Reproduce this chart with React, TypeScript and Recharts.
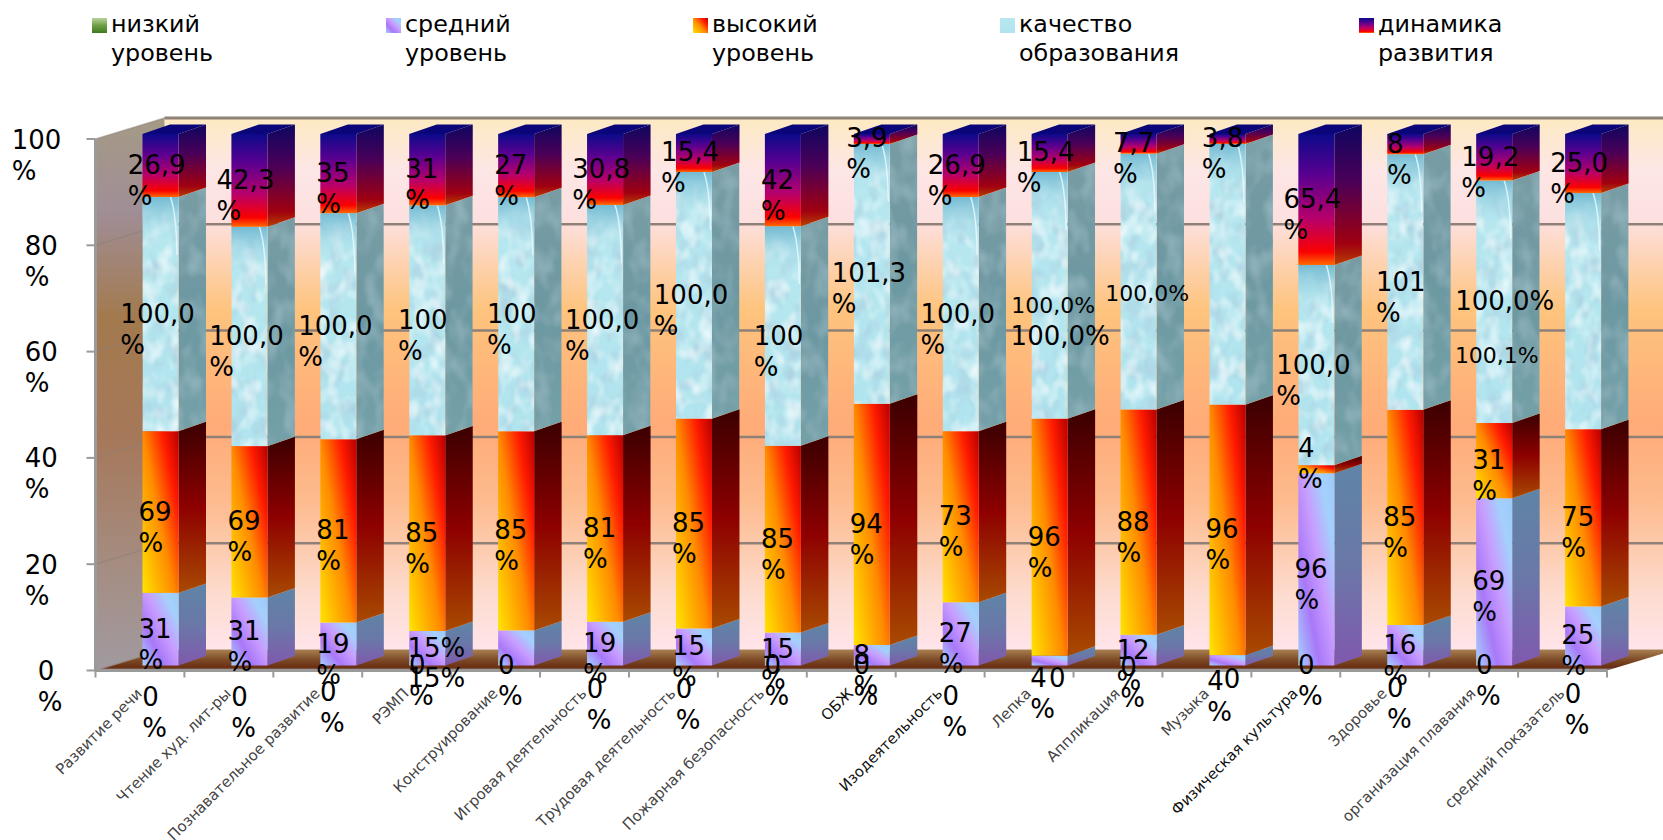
import { BarChart, Bar, XAxis, YAxis, LabelList } from "recharts";

const CATEGORIES = [
    "Развитие речи", "Чтение худ. лит-ры", "Познавательное развитие", "РЭМП", "Конструирование",
    "Игровая деятельность", "Трудовая деятельность", "Пожарная безопасность", "ОБЖ", "Изодеятельность",
    "Лепка", "Аппликация", "Музыка", "Физическая культура", "Здоровье", "организация плавания", "средний показатель",
];

const LOW = [0, 0, 0, 0, 0, 0, 0, 0, 0, 0, 0, 0, 0, 0, 0, 0, 0];
const MID = [31, 31, 19, 15, 15, 19, 15, 15, 8, 27, 4, 12, 4, 96, 16, 69, 25];
const HIGH = [69, 69, 81, 85, 85, 81, 85, 85, 94, 73, 96, 88, 96, 4, 85, 31, 75];
const QUALITY = [100, 100, 100, 100, 100, 100, 100, 100, 101.3, 100, 100, 100, 100, 100, 101, 100, 100];
const DYNAMICS = [26.9, 42.3, 35, 31, 27, 30.8, 15.4, 42, 3.9, 26.9, 15.4, 7.7, 3.8, 65.4, 8, 19.2, 25];

const LOW_LABELS = ["0\n%", "0\n%", "0\n%", "0\n%", "0\n%", "0\n%", "0\n%", "0\n%", "0\n%", "0\n%", "0", "0\n%", "0", "0\n%", "0\n%", "0\n%", "0\n%"];
const MID_LABELS = ["31\n%", "31\n%", "19\n%", "15%", "", "19\n%", "15\n%", "15\n%", "8\n%", "27\n%", "4\n%", "12\n%", "4\n%", "96\n%", "16\n%", "69\n%", "25\n%"];
const HIGH_LABELS = ["69\n%", "69\n%", "81\n%", "85\n%", "85\n%", "81\n%", "85\n%", "85\n%", "94\n%", "73\n%", "96\n%", "88\n%", "96\n%", "4\n%", "85\n%", "31\n%", "75\n%"];
const QUALITY_LABELS = ["100,0\n%", "100,0\n%", "100,0\n%", "100\n%", "100\n%", "100,0\n%", "100,0\n%", "100\n%", "101,3\n%", "100,0\n%", "100,0%", "100,0%", "", "100,0\n%", "101\n%", "100,0%", ""];
const DYNAMICS_LABELS = ["26,9\n%", "42,3\n%", "35\n%", "31\n%", "27\n%", "30,8\n%", "15,4\n%", "42\n%", "3,9\n%", "26,9\n%", "15,4\n%", "7,7\n%", "3,8\n%", "65,4\n%", "8\n%", "19,2\n%", "25,0\n%"];
// the source chart has a few doubled labels
const MID_EXTRA = ["", "", "", "15%", "", "", "", "", "", "", "", "", "", "", "", "", ""];
const QUALITY_EXTRA = ["", "", "", "", "", "", "", "", "", "", "100,0%", "", "", "", "", "100,1%", ""];

const Y_TICKS = [0, 0.2, 0.4, 0.6, 0.8, 1];

const LEGEND_NAMES = ["низкий\nуровень", "средний\nуровень", "высокий\nуровень", "качество\nобразования", "динамика\nразвития"];
const LEGEND_SWATCHES = ["url(#lowFront)", "url(#midFront)", "url(#highFront)", "url(#qualityFront)", "url(#dynFront)"];
const LEGEND_X = [92, 386, 693, 1000, 1359];

const data = CATEGORIES.map((name, i) => ({
    name,
    low: LOW[i],
    mid: MID[i],
    high: HIGH[i],
    quality: QUALITY[i],
    dyn: DYNAMICS[i],
    lowLabel: LOW_LABELS[i],
    midLabel: MID_LABELS[i],
    highLabel: HIGH_LABELS[i],
    qualityLabel: QUALITY_LABELS[i],
    dynLabel: DYNAMICS_LABELS[i],
    midExtra: MID_EXTRA[i],
    qualityExtra: QUALITY_EXTRA[i],
}));

const W = 1663;
const H = 840;
const LEFT = 95.5;
const RIGHT = 1607;
const TOP = 139;
const BOTTOM = 670.5;
const BAND = (RIGHT - LEFT) / CATEGORIES.length;
const WALL_DX = 69;
const WALL_DY = -21;

const BAR_W = 36;
const SHIFT_X = 21;
const SHIFT_Y = -5;
const SIDE_DX = 27.5;
const SIDE_DY = -9.5;

const FONT = "'DejaVu Sans', sans-serif";
const LABEL_SIZE = 26;
const LINE_H = 31;

// label nudges that the placement rule does not cover, [dx, dy, fontSize]
const LOW_DY = [32, 32, 27, 0, 0, 24, 24, 0, 0, 31, 13, 2, 14, 0, 23, 0, 29];
const NUDGES: Record<string, [number, number, number?]> = {
    "low-10": [14, 0],
    "low-12": [11, 0],
    "mid-3": [13, 0],
    "midExtra-3": [13, 30],
    "mid-10": [-1, 18],
    "mid-12": [-2, 21],
    "high-13": [0, -21],
    "quality-10": [12, 41],
    "qualityExtra-10": [6, 11, 22],
    "quality-11": [11, 12, 22],
    "quality-15": [12, 0],
    "qualityExtra-15": [5, 54, 22],
};

function textWidth(s: string, size: number) {
    let em = 0;
    for (const c of s) em += c === "," ? 0.318 : c === "%" ? 0.95 : 0.636;
    return em * size;
}

function makeLabel(series: string) {
    return (p: any) => {
        const text = p.value as string;
        if (!text) return null;
        const key = `${series}-${p.index}`;
        const nudge = NUDGES[key] ?? [0, 0];
        const size = nudge[2] ?? LABEL_SIZE;
        const lines = text.split("\n");
        const blockW = Math.max(...lines.map((l) => textWidth(l, size)));
        const cx = Number(p.x) + Number(p.width) / 2 + 16 + (blockW - 40) * 0.06 + nudge[0];
        const extraDy = series === "low" ? LOW_DY[p.index] : 0;
        const cy = Number(p.y) + Number(p.height) / 2 + SHIFT_Y - 1 + nudge[1] + extraDy;
        return (
            <text fontFamily={FONT} fontSize={size} fill="#000">
                {lines.map((l, i) => (
                    <tspan key={i} x={cx - blockW / 2} y={cy + size * 0.365 + i * LINE_H}>{l}</tspan>
                ))}
            </text>
        );
    };
}

function makeBox(kind: string, withTop = false) {
    return (p: any) => {
        const { x, y, width, height } = p;
        if (!height || height <= 0) return <g />;
        const x0 = x + SHIFT_X;
        const y0 = y + SHIFT_Y;
        const x1 = x0 + width;
        const y1 = y0 + height;
        const side = `M${x1},${y0} L${x1 + SIDE_DX},${y0 + SIDE_DY} L${x1 + SIDE_DX},${y1 + SIDE_DY} L${x1},${y1} Z`;
        const top = `M${x0},${y0} L${x0 + SIDE_DX},${y0 + SIDE_DY} L${x1 + SIDE_DX},${y0 + SIDE_DY} L${x1},${y0} Z`;
        const isQuality = kind === "quality";
        return (
            <g>
                <path d={side} fill={`url(#${kind}Side)`} filter={isQuality ? "url(#bubblesDark)" : undefined} />
                <rect x={x0} y={y0} width={width} height={height} fill={`url(#${kind}Front)`} filter={isQuality ? "url(#bubbles)" : undefined} />
                {isQuality && height > 60 && (
                    <g>
                        <rect x={x0} y={y0} width={width} height={48} fill="url(#qualityShade)" />
                        <path
                            d={`M${x1 - 8},${y0} Q${x1 - 2},${y0 + 18} ${x1 - 1.5},${y0 + 58}`}
                            fill="none"
                            stroke="#e8fbff"
                            strokeOpacity={0.8}
                            strokeWidth={1.5}
                        />
                    </g>
                )}
                {withTop && <path d={top} fill="#0a0578" />}
            </g>
        );
    };
}

function Backdrop() {
    const bx = LEFT + WALL_DX;
    const h = BOTTOM - TOP;
    return (
        <g>
            <rect x={bx} y={TOP + WALL_DY} width={W - bx} height={h} fill="url(#backWall)" />
            <path
                d={`M${LEFT},${TOP} L${bx},${TOP + WALL_DY} L${bx},${BOTTOM + WALL_DY} L${LEFT},${BOTTOM} Z`}
                fill="url(#leftWall)"
            />
            <path
                d={`M${LEFT},${BOTTOM} L${bx},${BOTTOM + WALL_DY} L${RIGHT + WALL_DX},${BOTTOM + WALL_DY} L${RIGHT},${BOTTOM} Z`}
                fill="url(#floor)"
            />
            {Y_TICKS.map((t) => {
                const y = BOTTOM - t * h;
                return (
                    <g key={t}>
                        <line x1={LEFT} y1={y} x2={bx} y2={y + WALL_DY} stroke="#8c8078" strokeOpacity={0.5} strokeWidth={1.5} />
                        {t > 0 && <line x1={bx} y1={y + WALL_DY} x2={W} y2={y + WALL_DY} stroke="#8f8078" strokeWidth={t === 1 ? 3 : 2.5} />}
                    </g>
                );
            })}
        </g>
    );
}

function YTick(p: any) {
    const { x, y, payload } = p;
    const num = String(Math.round(payload.value * 100));
    const left = 11.7 + (3 - num.length) * 13;
    return (
        <g>
            <line x1={x} y1={y} x2={LEFT} y2={y} stroke="#9a9a9a" strokeWidth={2} />
            <text fontFamily={FONT} fontSize={LABEL_SIZE} fill="#000">
                <tspan x={left} y={y + 9.5}>{num}</tspan>
                <tspan x={left} y={y + 9.5 + LINE_H}>%</tspan>
            </text>
        </g>
    );
}

function XTick(p: any) {
    const { x, y, payload, index } = p;
    const dark = payload.value === "Изодеятельность" || payload.value === "Физическая культура" || payload.value === "ОБЖ";
    const ex = x + 3;
    const ey = y + 16;
    return (
        <g>
            <line x1={x - BAND / 2} y1={BOTTOM} x2={x - BAND / 2} y2={BOTTOM + 7} stroke="#9a9a9a" strokeWidth={2} />
            {index === CATEGORIES.length - 1 && (
                <line x1={x + BAND / 2} y1={BOTTOM} x2={x + BAND / 2} y2={BOTTOM + 7} stroke="#9a9a9a" strokeWidth={2} />
            )}
            <text
                x={ex}
                y={ey}
                textAnchor="end"
                fontFamily={FONT}
                fontSize={15}
                fill={dark ? "#111" : "#444"}
                transform={`rotate(-45 ${ex} ${ey})`}
            >
                {payload.value}
            </text>
        </g>
    );
}

function Defs() {
    return (
        <defs>
            <linearGradient id="backWall" x1="0" y1="0" x2="0" y2="1">
                <stop offset="0" stopColor="#fdeac2" />
                <stop offset="0.1" stopColor="#fde6e6" />
                <stop offset="0.19" stopColor="#fde0e0" />
                <stop offset="0.36" stopColor="#fec47e" />
                <stop offset="0.58" stopColor="#ffab78" />
                <stop offset="0.72" stopColor="#fdbb8e" />
                <stop offset="0.9" stopColor="#fddcd0" />
                <stop offset="1" stopColor="#ffe4ea" />
            </linearGradient>
            <linearGradient id="leftWall" x1="0" y1="0" x2="0" y2="1">
                <stop offset="0" stopColor="#a59a85" />
                <stop offset="0.17" stopColor="#a08e96" />
                <stop offset="0.36" stopColor="#a27a4e" />
                <stop offset="0.58" stopColor="#a6785a" />
                <stop offset="0.8" stopColor="#a58c80" />
                <stop offset="1" stopColor="#a19aa0" />
            </linearGradient>
            <linearGradient id="floor" x1="0" y1="0" x2="0" y2="1">
                <stop offset="0" stopColor="#a98052" />
                <stop offset="0.5" stopColor="#7c4a26" />
                <stop offset="0.85" stopColor="#6a2e12" />
                <stop offset="1" stopColor="#8f8a88" />
            </linearGradient>
            <linearGradient id="lowFront" x1="0" y1="0" x2="0" y2="1">
                <stop offset="0" stopColor="#b8d49a" />
                <stop offset="0.5" stopColor="#6f9f45" />
                <stop offset="1" stopColor="#3c7a22" />
            </linearGradient>
            <linearGradient id="lowSide" x1="0" y1="0" x2="0" y2="1">
                <stop offset="0" stopColor="#4d7a2c" />
                <stop offset="1" stopColor="#2c5a18" />
            </linearGradient>
            <linearGradient id="midFront" x1="0" y1="1" x2="1" y2="0">
                <stop offset="0" stopColor="#a6d2ff" />
                <stop offset="0.3" stopColor="#a878f8" />
                <stop offset="0.55" stopColor="#c89cff" />
                <stop offset="0.8" stopColor="#a4d0fc" />
                <stop offset="1" stopColor="#9ccaf8" />
            </linearGradient>
            <linearGradient id="midSide" x1="0" y1="0" x2="0" y2="1">
                <stop offset="0" stopColor="#5f84a6" />
                <stop offset="0.5" stopColor="#6a78a8" />
                <stop offset="1" stopColor="#8058ae" />
            </linearGradient>
            <linearGradient id="highFront" x1="0" y1="1" x2="1.24" y2="-0.1">
                <stop offset="0" stopColor="#ffe400" />
                <stop offset="0.4" stopColor="#ff8a00" />
                <stop offset="0.65" stopColor="#ff1a00" />
                <stop offset="0.85" stopColor="#b80000" />
                <stop offset="1" stopColor="#900000" />
            </linearGradient>
            <linearGradient id="highSide" x1="0" y1="0" x2="0" y2="1">
                <stop offset="0" stopColor="#3a0000" />
                <stop offset="0.5" stopColor="#8e0000" />
                <stop offset="1" stopColor="#a84a00" />
            </linearGradient>
            <linearGradient id="qualityFront" x1="0" y1="0" x2="0" y2="1">
                <stop offset="0" stopColor="#b8e8f0" />
                <stop offset="1" stopColor="#b0e4ee" />
            </linearGradient>
            <linearGradient id="qualityShade" x1="0" y1="0" x2="0" y2="1">
                <stop offset="0" stopColor="#74bad2" stopOpacity={1} />
                <stop offset="1" stopColor="#b8e8f0" stopOpacity={0} />
            </linearGradient>
            <linearGradient id="qualitySide" x1="0" y1="0" x2="0" y2="1">
                <stop offset="0" stopColor="#789ca4" />
                <stop offset="0.5" stopColor="#6c98a2" />
                <stop offset="1" stopColor="#74a0a8" />
            </linearGradient>
            <linearGradient id="dynFront" x1="0" y1="0" x2="0" y2="1">
                <stop offset="0" stopColor="#0c0a8a" />
                <stop offset="0.32" stopColor="#5c0090" />
                <stop offset="0.65" stopColor="#b8006a" />
                <stop offset="0.9" stopColor="#fa0000" />
                <stop offset="1" stopColor="#ff6a00" />
            </linearGradient>
            <linearGradient id="dynSide" x1="0" y1="0" x2="0" y2="1">
                <stop offset="0" stopColor="#0e0660" />
                <stop offset="0.4" stopColor="#4a0058" />
                <stop offset="0.85" stopColor="#a00010" />
                <stop offset="1" stopColor="#b84000" />
            </linearGradient>
            <filter id="bubbles" x="0" y="0" width="1" height="1">
                <feTurbulence type="fractalNoise" baseFrequency="0.07 0.05" numOctaves="2" seed="7" result="noise" />
                <feColorMatrix in="noise" type="matrix" values="0 0 0 0 0.93  0 0 0 0 0.99  0 0 0 0 1  1.8 0 0 0 -0.8" result="light" />
                <feColorMatrix in="noise" type="matrix" values="0 0 0 0 0.42  0 0 0 0 0.65  0 0 0 0 0.76  0 2.4 0 0 -1.05" result="dark" />
                <feMerge result="spots">
                    <feMergeNode in="SourceGraphic" />
                    <feMergeNode in="dark" />
                    <feMergeNode in="light" />
                </feMerge>
                <feComposite in="spots" in2="SourceGraphic" operator="in" />
            </filter>
            <filter id="bubblesDark" x="0" y="0" width="1" height="1">
                <feTurbulence type="fractalNoise" baseFrequency="0.06 0.04" numOctaves="2" seed="3" result="noise" />
                <feColorMatrix in="noise" type="matrix" values="0 0 0 0 0.3  0 0 0 0 0.47  0 0 0 0 0.52  1.8 0 0 0 -0.75" result="dark" />
                <feMerge result="spots">
                    <feMergeNode in="SourceGraphic" />
                    <feMergeNode in="dark" />
                </feMerge>
                <feComposite in="spots" in2="SourceGraphic" operator="in" />
            </filter>
        </defs>
    );
}

function LegendBlock() {
    return (
        <>
            {LEGEND_NAMES.map((name, i) => (
                <div key={name} style={{ position: "absolute", left: LEGEND_X[i], top: 10, fontFamily: FONT, fontSize: 23.8, lineHeight: "29px", color: "#000", whiteSpace: "pre" }}>
                    <svg width={15} height={15} style={{ position: "absolute", left: 0, top: 8 }}>
                        <rect width={15} height={15} fill={LEGEND_SWATCHES[i]} />
                    </svg>
                    <div style={{ marginLeft: 19 }}>{name}</div>
                </div>
            ))}
        </>
    );
}

export default function App() {
    return (
        <div style={{ position: "absolute", left: 0, top: 0, width: W, height: H, overflow: "hidden", background: "#fff" }}>
            <BarChart
                width={W}
                height={H}
                data={data}
                stackOffset="expand"
                barSize={BAR_W}
                margin={{ top: TOP, right: W - RIGHT, bottom: 0, left: 0 }}
            >
                <Defs />
                <Backdrop />
                <XAxis
                    dataKey="name"
                    interval={0}
                    height={H - BOTTOM}
                    stroke="#9a9a9a"
                    strokeWidth={3}
                    tickLine={false}
                    tick={<XTick />}
                />
                <YAxis
                    width={LEFT}
                    domain={[0, 1]}
                    ticks={Y_TICKS}
                    stroke="#9a9a9a"
                    strokeWidth={3}
                    tickLine={false}
                    tickSize={7}
                    tick={<YTick />}
                />
                <Bar dataKey="low" stackId="a" shape={makeBox("low")} isAnimationActive={false}>
                    <LabelList dataKey="lowLabel" content={makeLabel("low")} />
                </Bar>
                <Bar dataKey="mid" stackId="a" shape={makeBox("mid")} isAnimationActive={false}>
                    <LabelList dataKey="midLabel" content={makeLabel("mid")} />
                    <LabelList dataKey="midExtra" content={makeLabel("midExtra")} />
                </Bar>
                <Bar dataKey="high" stackId="a" shape={makeBox("high")} isAnimationActive={false}>
                    <LabelList dataKey="highLabel" content={makeLabel("high")} />
                </Bar>
                <Bar dataKey="quality" stackId="a" shape={makeBox("quality")} isAnimationActive={false}>
                    <LabelList dataKey="qualityLabel" content={makeLabel("quality")} />
                    <LabelList dataKey="qualityExtra" content={makeLabel("qualityExtra")} />
                </Bar>
                <Bar dataKey="dyn" stackId="a" shape={makeBox("dyn", true)} isAnimationActive={false}>
                    <LabelList dataKey="dynLabel" content={makeLabel("dyn")} />
                </Bar>
            </BarChart>
            <LegendBlock />
        </div>
    );
}
